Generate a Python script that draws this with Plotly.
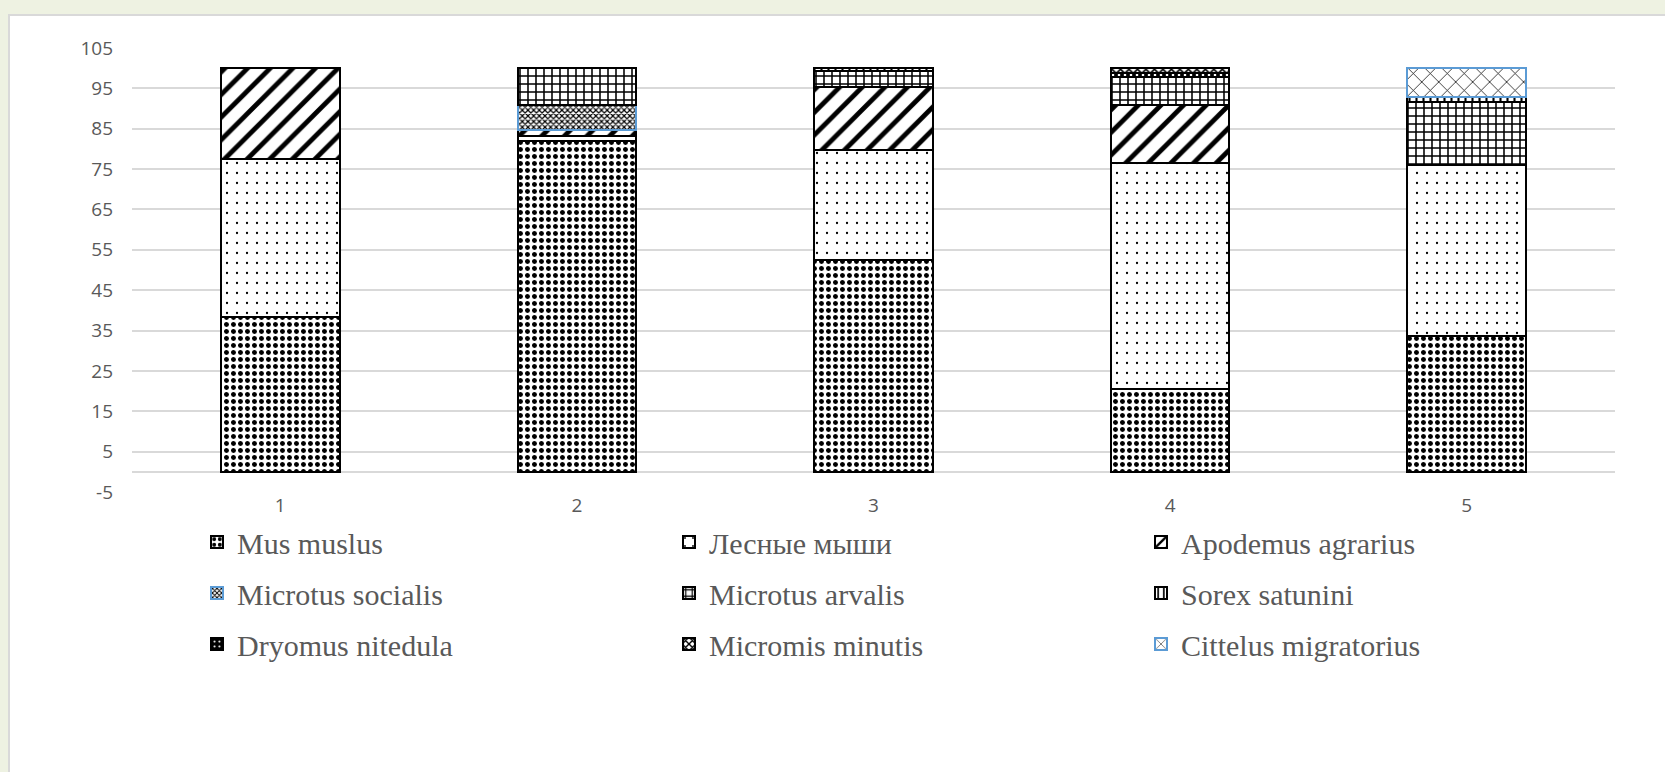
import plotly.graph_objects as go

categories = ["1", "2", "3", "4", "5"]

series_names = [
    "Mus muslus", "Лесные мыши", "Apodemus agrarius",
    "Microtus socialis", "Microtus arvalis", "Sorex satunini",
    "Dryomus nitedula", "Micromis minutis", "Cittelus migratorius",
]

mus_muslus = [38.4, 82.0, 52.6, 20.5, 33.7]
lesnye_myshi = [39.2, 1.2, 27.2, 56.1, 42.2]
apodemus_agrarius = [22.4, 1.6, 15.5, 14.2, None]
microtus_socialis = [None, 6.0, None, None, None]
microtus_arvalis = [None, 9.2, 4.1, 7.0, 15.7]
sorex_satunini = [None, None, 0.6, None, 1.2]
dryomus_nitedula = [None, None, None, 1.1, None]
micromis_minutis = [None, None, None, 1.1, None]
cittelus_migratorius = [None, None, None, None, 7.2]

y_tick_values = [-5, 5, 15, 25, 35, 45, 55, 65, 75, 85, 95, 105]
y_tick_labels = ["-5", "5", "15", "25", "35", "45", "55", "65", "75", "85", "95", "105"]

values = [mus_muslus, lesnye_myshi, apodemus_agrarius, microtus_socialis,
          microtus_arvalis, sorex_satunini, dryomus_nitedula,
          micromis_minutis, cittelus_migratorius]

BLUE = "#5b9bd5"
styles = [
    dict(shape=".", size=7, solidity=0.4, fg="black", bg="white", line="black"),
    dict(shape=".", size=10, solidity=0.04, fg="black", bg="white", line="black"),
    dict(shape="/", size=16, solidity=0.3, fg="black", bg="white", line="black"),
    dict(shape="x", size=4, solidity=0.5, fg="black", bg="white", line=BLUE),
    dict(shape="+", size=8, solidity=0.35, fg="black", bg="white", line="black"),
    dict(shape="|", size=7, solidity=0.3, fg="black", bg="white", line="black"),
    dict(shape=".", size=6, solidity=0.15, fg="white", bg="black", line="black"),
    dict(shape="x", size=6, solidity=0.5, fg="black", bg="white", line="black"),
    dict(shape="x", size=12, solidity=0.12, fg="black", bg="white", line=BLUE),
]

legend_ids = ["legend", "legend", "legend", "legend2", "legend2", "legend2",
              "legend3", "legend3", "legend3"]

fig = go.Figure()
for name, vals, st, lg in zip(series_names, values, styles, legend_ids):
    fig.add_trace(go.Bar(
        x=categories, y=vals, name=name, legend=lg,
        marker=dict(
            color=st["bg"],
            line=dict(color=st["line"], width=2),
            pattern=dict(shape=st["shape"], size=st["size"], solidity=st["solidity"],
                         fgcolor=st["fg"], bgcolor=st["bg"], fillmode="replace"),
        ),
    ))

W, H = 1665, 772
L, R, T, B = 132, 50, 48, 280
pw, ph = W - L - R, H - T - B

def px_x(p):
    return (p - L) / pw

def px_y(p):
    return (H - B - p) / ph

leg_common = dict(
    orientation="h", xanchor="left", yanchor="middle",
    font=dict(family="Liberation Serif, Times New Roman, serif", size=30, color="#595959"),
    entrywidth=427, entrywidthmode="pixels", bgcolor="rgba(0,0,0,0)",
    traceorder="normal",
)

fig.update_layout(
    width=W, height=H,
    margin=dict(l=L, r=R, t=T, b=B),
    barmode="stack", bargap=0.6,
    paper_bgcolor="#eef2e2", plot_bgcolor="white",
    font=dict(family="Open Sans", size=19, color="#595959"),
    xaxis=dict(showgrid=False, showline=False, ticks="", tickfont=dict(size=19, color="#595959")),
    yaxis=dict(range=[-5, 105], tickvals=y_tick_values, ticktext=y_tick_labels,
               showgrid=True, gridcolor="#d9d9d9",
               gridwidth=1.5, zeroline=True, zerolinecolor="#d9d9d9", zerolinewidth=1.5,
               ticks="", ticklabelstandoff=18, tickfont=dict(size=19, color="#595959")),
    legend=dict(x=px_x(197), y=px_y(542), **leg_common),
    legend2=dict(x=px_x(197), y=px_y(593), **leg_common),
    legend3=dict(x=px_x(197), y=px_y(644), **leg_common),
    shapes=[dict(type="rect", xref="paper", yref="paper", layer="below",
                 x0=px_x(9), x1=px_x(W + 5), y0=px_y(H + 5), y1=px_y(15),
                 fillcolor="white", line=dict(color="#d9d9d9", width=2))],
    showlegend=True,
)

fig.write_html("out.html")
